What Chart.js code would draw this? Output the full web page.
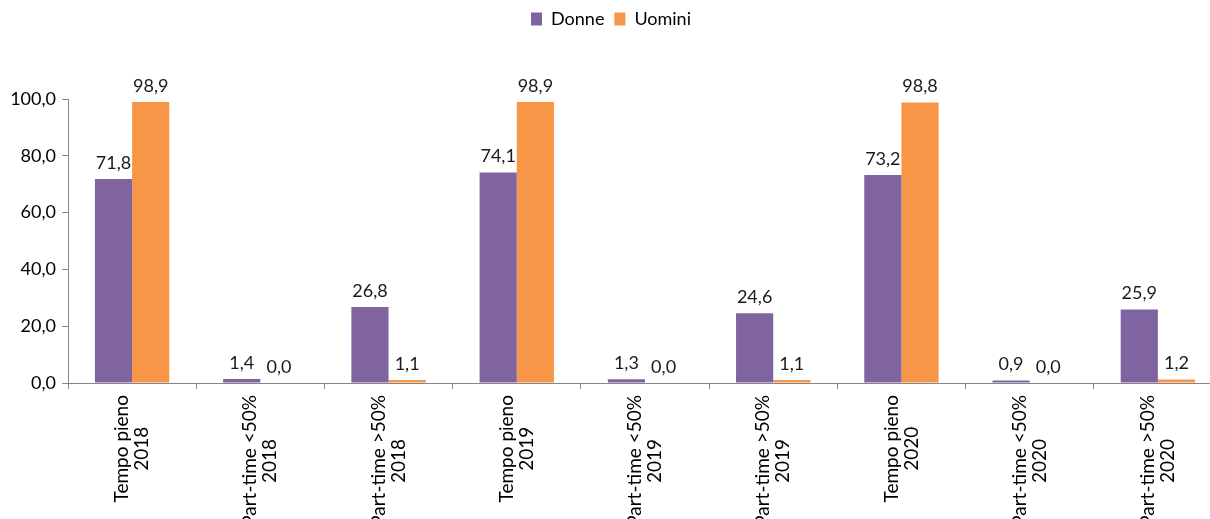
<!DOCTYPE html>
<html>
<head>
<meta charset="utf-8">
<script src="https://cdn.jsdelivr.net/npm/chart.js@4"></script>
<style>
    html, body { margin: 0; padding: 0; background: #fff; overflow: hidden; }
    #wrap { position: absolute; left: 0; top: 0; width: 1222px; height: 519px; }
</style>
</head>
<body>
<div id="wrap"><canvas id="chart"></canvas></div>
<script>
// Dati
const categories = [
    ['Tempo pieno', '2018'], ['Part-time <50%', '2018'], ['Part-time >50%', '2018'],
    ['Tempo pieno', '2019'], ['Part-time <50%', '2019'], ['Part-time >50%', '2019'],
    ['Tempo pieno', '2020'], ['Part-time <50%', '2020'], ['Part-time >50%', '2020']
];
const donne = [71.8, 1.4, 26.8, 74.1, 1.3, 24.6, 73.2, 0.9, 25.9];
const uomini = [98.9, 0.0, 1.1, 98.9, 0.0, 1.1, 98.8, 0.0, 1.2];
const yTicks = [0, 20, 40, 60, 80, 100];

const FONT = 'Lato, "Open Sans", sans-serif';
const fmt = v => v.toFixed(1).replace('.', ',');

// etichette sopra le barre
const valueLabels = {
    id: 'valueLabels',
    afterDatasetsDraw(chart) {
        const ctx = chart.ctx;
        ctx.save();
        ctx.font = '18px ' + FONT;
        ctx.fillStyle = '#1a1a1a';
        ctx.textAlign = 'center';
        ctx.textBaseline = 'bottom';
        chart.data.datasets.forEach((ds, i) => {
            chart.getDatasetMeta(i).data.forEach((bar, j) => {
                ctx.fillText(fmt(ds.data[j]), bar.x, bar.y - 7);
            });
        });
        ctx.restore();
    }
};

// etichette asse x ruotate, righe centrate tra loro
const xLabels = {
    id: 'xLabels',
    afterDraw(chart) {
        const ctx = chart.ctx;
        const xs = chart.scales.x;
        ctx.save();
        ctx.font = '19px ' + FONT;
        ctx.fillStyle = '#000';
        ctx.textAlign = 'center';
        ctx.textBaseline = 'middle';
        categories.forEach((lines, i) => {
            const w = Math.max(...lines.map(l => ctx.measureText(l).width));
            ctx.save();
            ctx.translate(xs.getPixelForValue(i), xs.top + 12);
            ctx.rotate(-Math.PI / 2);
            lines.forEach((l, k) => {
                ctx.fillText(l, -w / 2, (k - (lines.length - 1) / 2) * 20);
            });
            ctx.restore();
        });
        ctx.restore();
    }
};

// legenda alta quanto lo spazio sopra il grafico
const legendHeight = {
    id: 'legendHeight',
    beforeInit(chart) {
        const fit = chart.legend.fit;
        chart.legend.fit = function () {
            fit.call(this);
            this.height = 99;
        };
    }
};

new Chart(document.getElementById('chart'), {
    type: 'bar',
    data: {
        labels: categories.map(c => c.join(' ')),
        datasets: [
            { label: 'Donne', data: donne, backgroundColor: '#8064A2' },
            { label: 'Uomini', data: uomini, backgroundColor: '#F79646' }
        ]
    },
    options: {
        responsive: true,
        maintainAspectRatio: false,
        animation: false,
        layout: { padding: 0 },
        datasets: { bar: { categoryPercentage: 0.58, barPercentage: 1.0 } },
        scales: {
            x: {
                afterFit: axis => { axis.height = 136; },
                grid: { drawOnChartArea: false, tickLength: 6, color: '#868686', offset: true },
                border: { color: '#868686' },
                ticks: { display: false }
            },
            y: {
                min: 0, max: 100,
                afterFit: axis => { axis.width = 68; },
                afterBuildTicks: axis => { axis.ticks = yTicks.map(v => ({ value: v })); },
                grid: { drawOnChartArea: false, tickLength: 6, color: '#868686' },
                border: { color: '#868686' },
                ticks: {
                    padding: 6, color: '#000',
                    font: { family: FONT, size: 18 },
                    callback: v => fmt(v)
                }
            }
        },
        plugins: {
            legend: {
                position: 'top',
                labels: {
                    boxWidth: 11, boxHeight: 13, padding: 10, color: '#000',
                    font: { family: FONT, size: 18 }
                }
            },
            tooltip: { enabled: false }
        }
    },
    plugins: [valueLabels, xLabels, legendHeight]
});
</script>
</body>
</html>
